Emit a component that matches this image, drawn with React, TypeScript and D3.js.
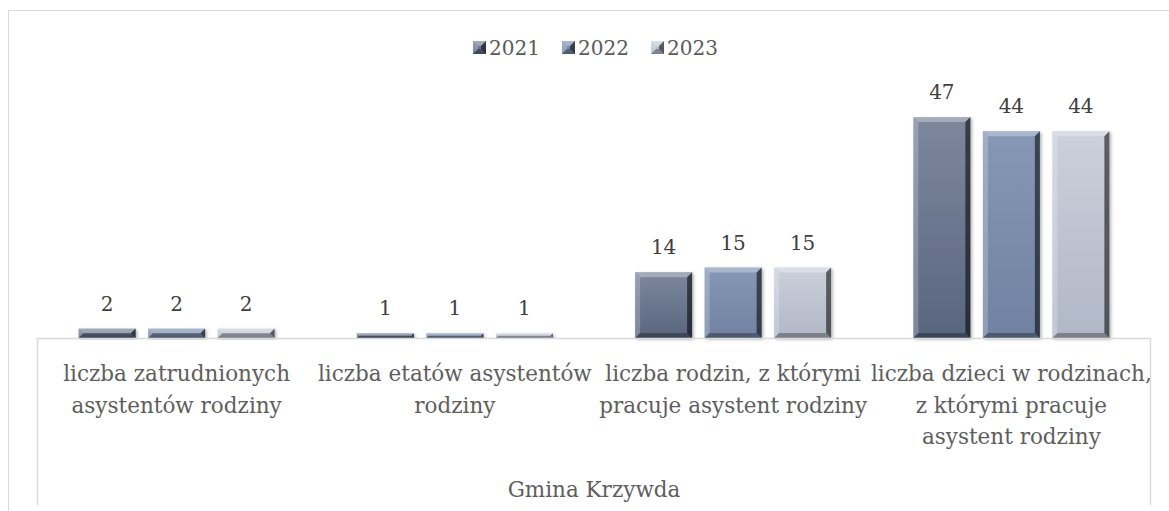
import React from "react";
import * as d3 from "d3";

const categories = [
  ["liczba zatrudnionych", "asystentów rodziny"],
  ["liczba etatów asystentów", "rodziny"],
  ["liczba rodzin, z którymi", "pracuje asystent rodziny"],
  ["liczba dzieci w rodzinach,", "z którymi pracuje", "asystent rodziny"],
];
const years = ["2021", "2022", "2023"];
const values2021 = [2, 1, 14, 47];
const values2022 = [2, 1, 15, 44];
const values2023 = [2, 1, 15, 44];
const groupLabel = "Gmina Krzywda";

const series = [values2021, values2022, values2023];
const colors = [
  { top: "#7d889d", bottom: "#58657e" },
  { top: "#8798b6", bottom: "#7081a1" },
  { top: "#cbd0db", bottom: "#b0b7c6" },
];

const W = 1169;
const H = 511;
const FONT = "'DejaVu Serif', serif";

function Bevel({ x, y, w, h, i, shadow = true }: any) {
  const b = Math.min(5, h / 2, w / 2);
  const pts = (a: number[][]) => a.map((p) => p.join(",")).join(" ");
  return (
    <g filter={shadow ? "url(#shadow)" : undefined}>
      <rect x={x} y={y} width={w} height={h} fill={`url(#grad${i})`} />
      <polygon points={pts([[x, y], [x + w, y], [x + w - b, y + b], [x + b, y + b]])} fill="#ffffff" opacity={0.3} />
      <polygon points={pts([[x, y], [x + b, y + b], [x + b, y + h - b], [x, y + h]])} fill="#ffffff" opacity={0.22} />
      <polygon points={pts([[x + w, y], [x + w, y + h], [x + w - b, y + h - b], [x + w - b, y + b]])} fill="#000000" opacity={0.55} />
      <polygon points={pts([[x, y + h], [x + b, y + h - b], [x + w - b, y + h - b], [x + w, y + h]])} fill="#000000" opacity={0.3} />
    </g>
  );
}

export default function App() {
  const plotLeft = 37.5;
  const plotRight = 1150.5;
  const baseY = 338;
  const x0 = d3.scaleBand<number>().domain(d3.range(categories.length)).range([plotLeft, plotRight]).padding(0);
  const groupW = 196;
  const gOff = (x0.bandwidth() - groupW) / 2;
  const x1 = d3.scaleBand<string>().domain(years).range([gOff, gOff + groupW]).paddingInner(0.18).paddingOuter(0);
  const y = d3.scaleLinear().domain([0, 50]).range([baseY, baseY - 235]);

  const legendX = d3.scaleBand<string>().domain(years).range([473, 740]);

  return (
    <svg width={W} height={H} style={{ position: "absolute", left: 0, top: 0, background: "#fff" }} fontFamily={FONT}>
      <defs>
        {colors.map((c, i) => (
          <linearGradient key={i} id={`grad${i}`} x1="0" y1="0" x2="0" y2="1">
            <stop offset="0" stopColor={c.top} />
            <stop offset="1" stopColor={c.bottom} />
          </linearGradient>
        ))}
        <filter id="shadow" x="-20%" y="-20%" width="140%" height="140%">
          <feDropShadow dx="1.5" dy="1.5" stdDeviation="1.5" floodColor="#000" floodOpacity="0.3" />
        </filter>
      </defs>
      {/* outer border */}
      <rect x={8.5} y={10.5} width={W} height={H} fill="none" stroke="#d9d9d9" strokeWidth={1} />

      {/* legend */}
      {years.map((yr, i) => {
        const lx = legendX(yr)!;
        return (
          <g key={yr}>
            <Bevel x={lx} y={41} w={13} h={13} i={i} shadow={false} />
            <text x={lx + 16} y={55} fontSize={20} fill="#5a5a5a">{yr}</text>
          </g>
        );
      })}

      {/* bars */}
      {categories.map((_, ci) => (
        <g key={ci} transform={`translate(${x0(ci)},0)`}>
          {series.map((vals, si) => {
            const bx = x1(years[si])!;
            const by = y(vals[ci]);
            return (
              <g key={si}>
                <Bevel x={bx} y={by} w={x1.bandwidth()} h={baseY - by} i={si} />
                <text x={bx + x1.bandwidth() / 2} y={by - 18} textAnchor="middle" fontSize={20} fill="#404040">
                  {vals[ci]}
                </text>
              </g>
            );
          })}
        </g>
      ))}

      {/* axis box */}
      <line x1={plotLeft} x2={plotRight} y1={baseY + 0.5} y2={baseY + 0.5} stroke="#d9d9d9" strokeWidth={1.5} />
      <line x1={plotLeft} x2={plotLeft} y1={baseY} y2={505} stroke="#d9d9d9" strokeWidth={1.5} />
      <line x1={plotRight} x2={plotRight} y1={baseY} y2={505} stroke="#d9d9d9" strokeWidth={1.5} />

      {/* category labels */}
      {categories.map((lines, ci) => (
        <text key={ci} textAnchor="middle" fontSize={21.5} fill="#5e5e5e">
          {lines.map((ln, li) => (
            <tspan key={li} x={x0(ci)! + x0.bandwidth() / 2} y={381 + li * 31.5}>
              {ln}
            </tspan>
          ))}
        </text>
      ))}
      <text x={(plotLeft + plotRight) / 2} y={497} textAnchor="middle" fontSize={21.5} fill="#5e5e5e">
        {groupLabel}
      </text>
    </svg>
  );
}
